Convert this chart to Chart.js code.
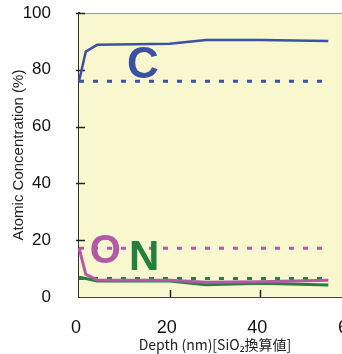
<!DOCTYPE html>
<html>
<head>
<meta charset="utf-8">
<script src="https://cdn.jsdelivr.net/npm/chart.js@4.4.1/dist/chart.umd.min.js"></script>
<style>
  html, body { margin: 0; padding: 0; background: #fff; overflow: hidden; }
  #wrap { width: 364px; height: 354px; }
</style>
</head>
<body>
<div id="wrap"><canvas id="chart" width="364" height="354"></canvas></div>
<script>
// depth (nm), SiO2 equivalent
const depth = [0, 1.5, 4, 20, 28, 40, 55];
const carbon = [76, 86.4, 88.8, 89.2, 90.5, 90.5, 90.1];
const oxygen = [17.3, 8.0, 6.0, 5.9, 5.2, 5.4, 5.9];
const nitrogen = [7.0, 6.5, 5.6, 5.6, 4.3, 4.8, 4.2];

// reference (dotted) levels
const refDepth = [0, 55];
const refC = [76, 76];
const refO = [17.2, 17.2];
const refN = [6.5, 6.5];

const yTicks = [0, 20, 40, 60, 80, 100];
const xTicks = [0, 20, 40, 60];

const BLUE = '#3c51a3';
const PINK = '#b35aa6';
const GREEN = '#23803d';

const pts = (xs, ys) => xs.map((x, i) => ({ x: x, y: ys[i] }));

const line = (data, color, width) => ({
    data: data, borderColor: color, borderWidth: width,
    pointRadius: 0, tension: 0, fill: false, clip: 6
});
const dotted = (data, color) => ({
    data: data, borderColor: color, borderWidth: 3, borderDash: [5, 9],
    borderCapStyle: 'butt', pointRadius: 0, fill: false, clip: 6
});

// pale yellow plot area + frame + inward ticks
const plotBg = {
    id: 'plotBg',
    beforeDatasetsDraw(chart) {
        const { ctx, chartArea: a, scales } = chart;
        ctx.save();
        ctx.fillStyle = '#f9f7cd';
        ctx.fillRect(a.left, a.top, a.right - a.left, a.bottom - a.top);
        ctx.strokeStyle = '#999';
        ctx.lineWidth = 1;
        ctx.beginPath();
        ctx.moveTo(a.left, a.top + 0.5);
        ctx.lineTo(a.right, a.top + 0.5);
        ctx.stroke();
        ctx.strokeStyle = '#222';
        ctx.lineWidth = 1.5;
        ctx.beginPath();
        xTicks.forEach(v => {
            if (v === 0) return;
            const px = Math.round(scales.x.getPixelForValue(v)) + 0.5;
            ctx.moveTo(px, a.bottom);
            ctx.lineTo(px, a.bottom - 7);
        });
        yTicks.forEach(v => {
            if (v === 0) return;
            const py = Math.round(scales.y.getPixelForValue(v)) + 0.5;
            ctx.moveTo(a.left - 3, py);
            ctx.lineTo(a.left + 6, py);
        });
        ctx.stroke();
        ctx.restore();
    }
};

// element letters placed in data units
const letters = {
    id: 'letters',
    afterDatasetsDraw(chart, args, opts) {
        const { ctx, scales } = chart;
        ctx.save();
        ctx.textAlign = 'center';
        ctx.textBaseline = 'middle';
        opts.items.forEach(it => {
            ctx.font = 'bold ' + it.size + 'px "Liberation Sans", Arial, sans-serif';
            ctx.fillStyle = it.color;
            ctx.fillText(it.text, scales.x.getPixelForValue(it.x), scales.y.getPixelForValue(it.y));
        });
        ctx.restore();
    }
};

new Chart(document.getElementById('chart').getContext('2d'), {
    type: 'line',
    data: {
        datasets: [
            dotted(pts(refDepth, refC), BLUE),
            dotted(pts(refDepth, refO), PINK),
            line(pts(depth, oxygen), PINK, 3),
            line(pts(depth, nitrogen), GREEN, 3),
            dotted(pts(refDepth, refN), GREEN),
            line(pts(depth, carbon), BLUE, 2.5)
        ]
    },
    options: {
        responsive: false,
        animation: false,
        layout: { padding: { top: 13, right: 13, left: 0, bottom: 0 } },
        plugins: {
            legend: { display: false },
            tooltip: { enabled: false },
            letters: {
                items: [
                    { text: 'C', x: 14.1, y: 81.3, color: BLUE, size: 44 },
                    { text: 'O', x: 5.8, y: 16.0, color: PINK, size: 40 },
                    { text: 'N', x: 14.4, y: 13.6, color: GREEN, size: 42 }
                ]
            }
        },
        scales: {
            x: {
                type: 'linear', min: 0, max: 60,
                afterFit: s => { s.height = 57; s.paddingLeft = 0; s.paddingRight = 0; },
                afterBuildTicks: s => { s.ticks = xTicks.map(v => ({ value: v })); },
                grid: { display: false },
                border: { display: true, color: '#444', width: 2 },
                ticks: { color: '#111', padding: 12, labelOffset: -3, font: { size: 18, family: '"Liberation Sans", Arial, sans-serif' } },
                title: {
                    display: true, text: 'Depth (nm)[SiO₂換算値]', color: '#222',
                    padding: { top: 0, bottom: 1 },
                    font: { size: 14, family: '"Noto Sans CJK JP", "Noto Sans", sans-serif' }
                }
            },
            y: {
                min: 0, max: 100,
                afterFit: s => { s.width = 79; s.paddingTop = 0; s.paddingBottom = 0; },
                afterBuildTicks: s => { s.ticks = yTicks.map(v => ({ value: v })); },
                grid: { display: false },
                border: { display: true, color: '#333', width: 2 },
                ticks: { color: '#111', padding: 20, font: { size: 17, family: '"Liberation Sans", Arial, sans-serif' } },
                title: {
                    display: true, text: 'Atomic Concentration (%)', color: '#222',
                    padding: { top: 10, bottom: 0 },
                    font: { size: 15, family: '"Liberation Sans", Arial, sans-serif' }
                }
            }
        }
    },
    plugins: [plotBg, letters]
});
</script>
</body>
</html>
